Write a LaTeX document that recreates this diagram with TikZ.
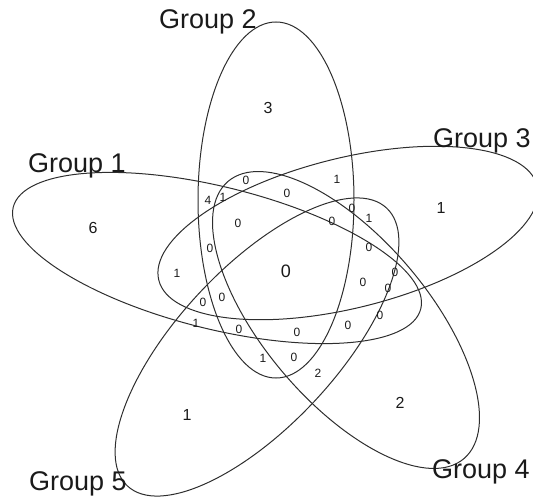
\documentclass[tikz,border=0pt]{standalone}
\usepackage{fontspec}
\setmainfont{Liberation Sans}
\usetikzlibrary{calc}
\definecolor{ink}{HTML}{2E2E2E}
\definecolor{txt}{HTML}{1A1A1A}

\begin{document}
\begin{tikzpicture}[
  x=1pt, y=-1pt,
  set/.style={draw=ink, line width=1pt},
  grp/.style={font=\fontsize{27}{27}\selectfont, text=txt, inner sep=0pt, anchor=base},
  cnt/.style={font=\fontsize{12}{12}\selectfont, text=txt, inner sep=0pt},
  solo/.style={font=\fontsize{16}{16}\selectfont, text=txt, inner sep=0pt},
  core/.style={font=\fontsize{18}{18}\selectfont, text=txt, inner sep=0pt}]
\useasboundingbox (0,0) rectangle (533,500);
% centres of the five sets
\coordinate (c1) at (217,258);
\coordinate (c2) at (276,200);
\coordinate (c3) at (348,233);
\coordinate (c4) at (346,320);
\coordinate (c5) at (257,347);
\draw[set, rotate around={-14:(c1)}] (c1) ellipse [x radius=210, y radius=71];
\draw[set] (c2) ellipse [x radius=78, y radius=178];
\draw[set, rotate around={14:(c3)}] (c3) ellipse [x radius=195, y radius=75];
\draw[set, rotate around={-49.6:(c4)}] (c4) ellipse [x radius=182, y radius=82];
\draw[set, rotate around={47:(c5)}] (c5) ellipse [x radius=190, y radius=79];
% group names
\node[grp] (g1) at (77,172) {Group 1};
\node[grp] (g2) at (208,29) {Group 2};
\node[grp] (g3) at (482,148) {Group 3};
\node[grp] (g4) at (481,478) {Group 4};
\node[grp] (g5) at (78,490) {Group 5};
% single sets and the core
\node[solo] (s1) at (93,228) {6};
\node[solo] (s2) at (268,108) {3};
\node[solo] (s3) at (441,208) {1};
\node[solo] (s4) at (400,403) {2};
\node[solo] (s5) at (187,415) {1};
\node[core] (all) at (286,271) {0};
% overlaps
\node[cnt] (k1) at (208,200) {4};
\node[cnt] (k2) at (223,197) {1};
\node[cnt] (k3) at (246,180) {0};
\node[cnt] (k4) at (287,193) {0};
\node[cnt] (k5) at (337,179) {1};
\node[cnt] (k6) at (238,223) {0};
\node[cnt] (k7) at (352,208) {0};
\node[cnt] (k8) at (332,221) {0};
\node[cnt] (k9) at (369,218) {1};
\node[cnt] (k10) at (210,248) {0};
\node[cnt] (k11) at (369,247) {0};
\node[cnt] (k12) at (177,273) {1};
\node[cnt] (k13) at (395,272) {0};
\node[cnt] (k14) at (363,282) {0};
\node[cnt] (k15) at (388,288) {0};
\node[cnt] (k16) at (203,302) {0};
\node[cnt] (k17) at (222,297) {0};
\node[cnt] (k18) at (380,315) {0};
\node[cnt] (k19) at (196,323) {1};
\node[cnt] (k20) at (239,329) {0};
\node[cnt] (k21) at (297,332) {0};
\node[cnt] (k22) at (348,325) {0};
\node[cnt] (k23) at (263,358) {1};
\node[cnt] (k24) at (294,357) {0};
\node[cnt] (k25) at (318,373) {2};
\end{tikzpicture}
\end{document}
